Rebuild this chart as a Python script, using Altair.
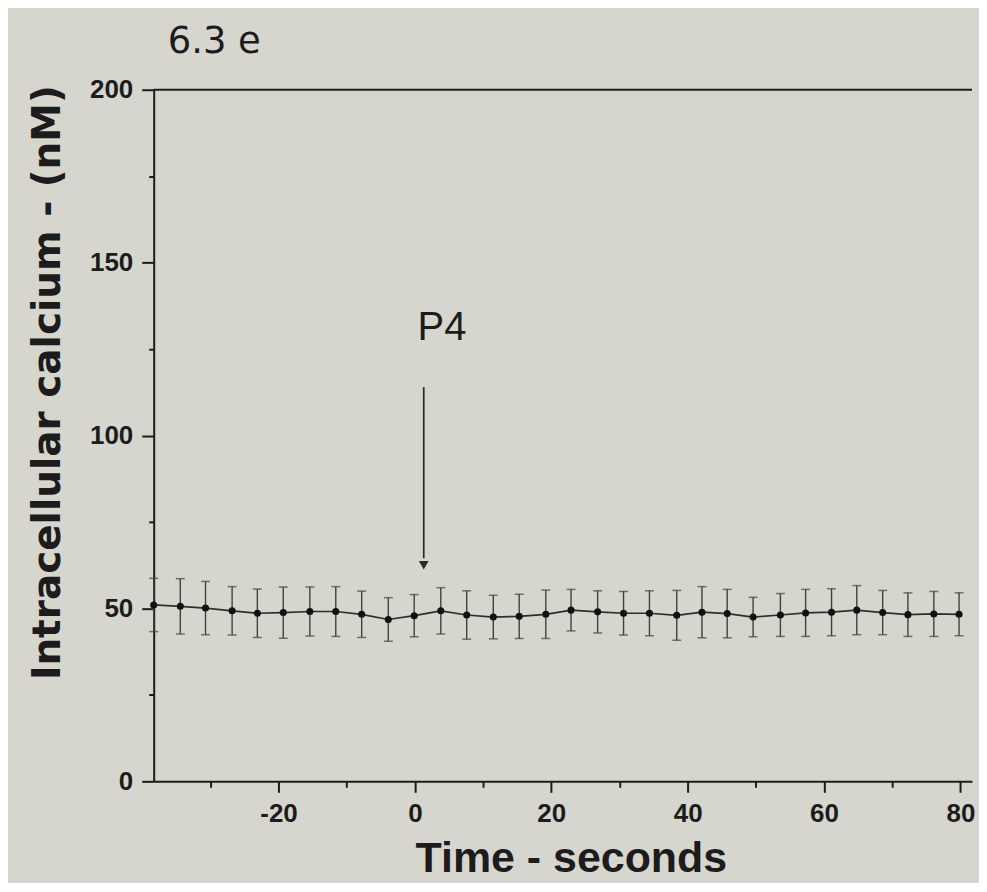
import altair as alt
import pandas as pd

# ---- data ----
time_s = [-38.3, -34.4, -30.7, -26.8, -23.1, -19.3, -15.4, -11.6, -7.8, -3.9,
          -0.1, 3.8, 7.6, 11.5, 15.3, 19.2, 22.9, 26.8, 30.6, 34.4,
          38.4, 42.1, 45.8, 49.6, 53.6, 57.3, 61.1, 64.8, 68.6, 72.3,
          76.1, 79.8]
calcium_nM = [51.0, 50.6, 50.1, 49.3, 48.6, 48.8, 49.1, 49.1, 48.3, 46.8,
              47.9, 49.3, 48.1, 47.5, 47.7, 48.3, 49.5, 49.0, 48.6, 48.6,
              48.0, 48.9, 48.5, 47.5, 48.1, 48.7, 48.9, 49.5, 48.8, 48.2,
              48.4, 48.3]
sem_nM = [7.7, 8.0, 7.7, 7.0, 7.0, 7.4, 7.1, 7.2, 6.7, 6.3,
          6.1, 6.7, 7.0, 6.3, 6.4, 7.0, 6.0, 6.1, 6.3, 6.5,
          7.2, 7.4, 7.0, 5.7, 6.2, 6.8, 6.8, 7.1, 6.4, 6.3,
          6.5, 6.2]

x_tick_values = [-30, -20, -10, 0, 10, 20, 30, 40, 50, 60, 70, 80]
y_tick_values = [0, 25, 50, 75, 100, 125, 150, 175, 200]
x_domain = [-38.3, 81.7]
y_domain = [0, 200]

annotation_label = ["P4"]
annotation_time = [0.4]
annotation_level = [127.5]
arrow_time = [1.3]
arrow_start = [114.0]
arrow_end = [64.5]
arrowhead_level = [62.5]

frame_level = [200]

# ---- tables ----
df = pd.DataFrame({"t": time_s, "ca": calcium_nM, "err": sem_nM})
df["lo"] = df["ca"] - df["err"]
df["hi"] = df["ca"] + df["err"]

ann = pd.DataFrame({"t": annotation_time, "ca": annotation_level, "label": annotation_label})
arrow = pd.DataFrame({"t": arrow_time, "top": arrow_start, "bottom": arrow_end,
                      "head": arrowhead_level})
frame = pd.DataFrame({"v": frame_level})

INK = "#1c1c1c"
BAR = "#404040"
FONT = "Liberation Sans"

xs = alt.Scale(domain=x_domain, nice=False, zero=False)
ys = alt.Scale(domain=y_domain, nice=False, zero=False)

x_axis = alt.Axis(
    values=x_tick_values,
    labelExpr="datum.value % 20 === 0 ? '' + datum.value : ''",
    tickSize={"condition": {"test": "datum.value % 20 === 0", "value": 11}, "value": 6},
    tickWidth=2, tickColor=INK, domainColor=INK, domainWidth=2,
    labelFont=FONT, labelFontSize=26, labelFontWeight="bold", labelColor=INK,
    labelPadding=8, labelOverlap=False, labelFlush=False, grid=False,
    title="Time - seconds", titleFont=FONT, titleFontSize=43, titleFontWeight="bold",
    titleColor=INK, titleX=418, titleY=90, titleBaseline="alphabetic", titleAlign="center",
)
y_axis = alt.Axis(
    values=y_tick_values,
    labelExpr="datum.value % 50 === 0 ? '' + datum.value : ''",
    tickSize={"condition": {"test": "datum.value % 50 === 0", "value": 12}, "value": 5},
    tickWidth=2, tickColor=INK, domainColor=INK, domainWidth=2,
    labelFont=FONT, labelFontSize=26, labelFontWeight="bold", labelColor=INK,
    labelPadding=9, labelOverlap=False, labelFlush=False, grid=False,
    title="Intracellular calcium - (nM)", titleFont="DejaVu Sans", titleFontSize=39,
    titleFontWeight="bold", titleColor=INK, titleX=-94, titleY=293,
    titleBaseline="alphabetic", titleAlign="center", titleAngle=270,
)

X = lambda f: alt.X(f, type="quantitative", scale=xs, axis=x_axis)
Y = lambda f: alt.Y(f, type="quantitative", scale=ys, axis=y_axis)

base = alt.Chart(df)

line = base.mark_line(color="#2e2e2e", strokeWidth=1.7).encode(x=X("t"), y=Y("ca"))
bars = base.mark_rule(color=BAR, strokeWidth=1.4).encode(x=X("t"), y=Y("lo"), y2="hi")
cap_lo = base.mark_tick(orient="horizontal", size=9, thickness=1.5, color=BAR).encode(x=X("t"), y=Y("lo"))
cap_hi = base.mark_tick(orient="horizontal", size=9, thickness=1.5, color=BAR).encode(x=X("t"), y=Y("hi"))
pts = base.mark_circle(size=50, color="#111111", opacity=1).encode(x=X("t"), y=Y("ca"))

top_frame = alt.Chart(frame).mark_rule(color=INK, strokeWidth=2).encode(y=Y("v"))

arrow_line = alt.Chart(arrow).mark_rule(color="#2a2a2a", strokeWidth=1.7).encode(
    x=X("t"), y=Y("top"), y2="bottom")
arrow_head = alt.Chart(arrow).mark_point(shape="triangle-down", filled=True, size=95,
                                         color="#2a2a2a", opacity=1).encode(x=X("t"), y=Y("head"))
label = alt.Chart(ann).mark_text(align="left", baseline="alphabetic", font=FONT,
                                 fontSize=40, color=INK).encode(x=X("t"), y=Y("ca"), text="label:N")

chart = alt.layer(
    top_frame, bars, cap_lo, cap_hi, line, pts, arrow_line, arrow_head, label
).properties(
    width=820, height=693,
    autosize=alt.AutoSizeParams(type="none"),
    padding={"left": 146, "top": 81, "right": 7, "bottom": 101},
    background="#d6d6cf",
    title=alt.TitleParams(text="6.3 e", anchor="start", frame="group", font="DejaVu Sans",
                          fontSize=37, fontWeight="normal", color=INK, dx=14, dy=37,
                          baseline="alphabetic", offset=24),
).configure_view(stroke=None)

chart.save("out.html", embed_options={"renderer": "svg", "actions": False})
